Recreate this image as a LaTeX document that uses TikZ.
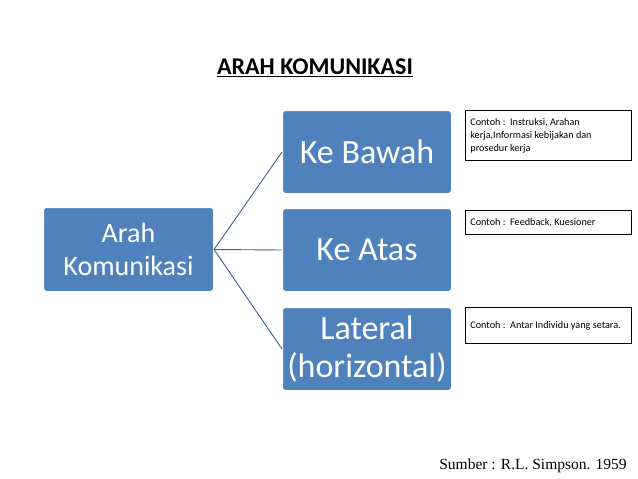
\documentclass[tikz,border=0pt]{standalone}
\usepackage{fontspec}
\setmainfont{Carlito}
\newfontfamily\srcfont{Liberation Serif}
\begin{document}
\begin{tikzpicture}[x=1pt,y=-1pt,
  bluebox/.style={draw=white,line width=1pt,fill=blue4F,rounded corners=3pt,text=white,align=center,font=\fontsize{34}{38}\selectfont,inner sep=0pt},
  notebox/.style={draw=black,line width=0.8pt,align=flush left,anchor=north west,font=\fontsize{10.2}{13}\selectfont,inner sep=5pt,text width=156pt,minimum width=166pt},
  conn/.style={draw=lineC,line width=0.9pt}]
\definecolor{blue4F}{HTML}{4F81BD}
\definecolor{lineC}{HTML}{3F5F8F}
\useasboundingbox (0,0) rectangle (638,479);
\node[font=\bfseries\fontsize{24}{28}\selectfont] (t) at (315,68) {\underline{ARAH KOMUNIKASI}};
\node[bluebox,minimum width=170pt,minimum height=84pt,font=\fontsize{28}{33}\selectfont] (a) at (128.5,249.5) {Arah\\Komunikasi};
\node[bluebox,minimum width=169pt,minimum height=83pt] (b1) at (367,152) {Ke Bawah};
\node[bluebox,minimum width=169pt,minimum height=83pt] (b2) at (367,250) {Ke Atas};
\node[bluebox,minimum width=169pt,minimum height=83pt] (b3) at (367,349) {Lateral\\(horizontal)};
\draw[conn] (a.east) -- (b1.west);
\draw[conn] (a.east) -- (b2.west);
\draw[conn] (a.east) -- (b3.west);
\node[notebox,minimum height=50pt] (n1) at (465,110) {Contoh :\ \ Instruksi, Arahan kerja,Informasi kebijakan dan prosedur kerja};
\node[notebox,minimum height=24pt] (n2) at (465,210) {Contoh :\ \ Feedback, Kuesioner};
\node[notebox,minimum height=36pt] (n3) at (465,307) {Contoh :\ \ Antar Individu yang setara.};
\node[font=\srcfont\fontsize{15.5}{18}\selectfont] (s) at (533,466) {Sumber : R.L. Simpson. 1959};
\end{tikzpicture}
\end{document}
